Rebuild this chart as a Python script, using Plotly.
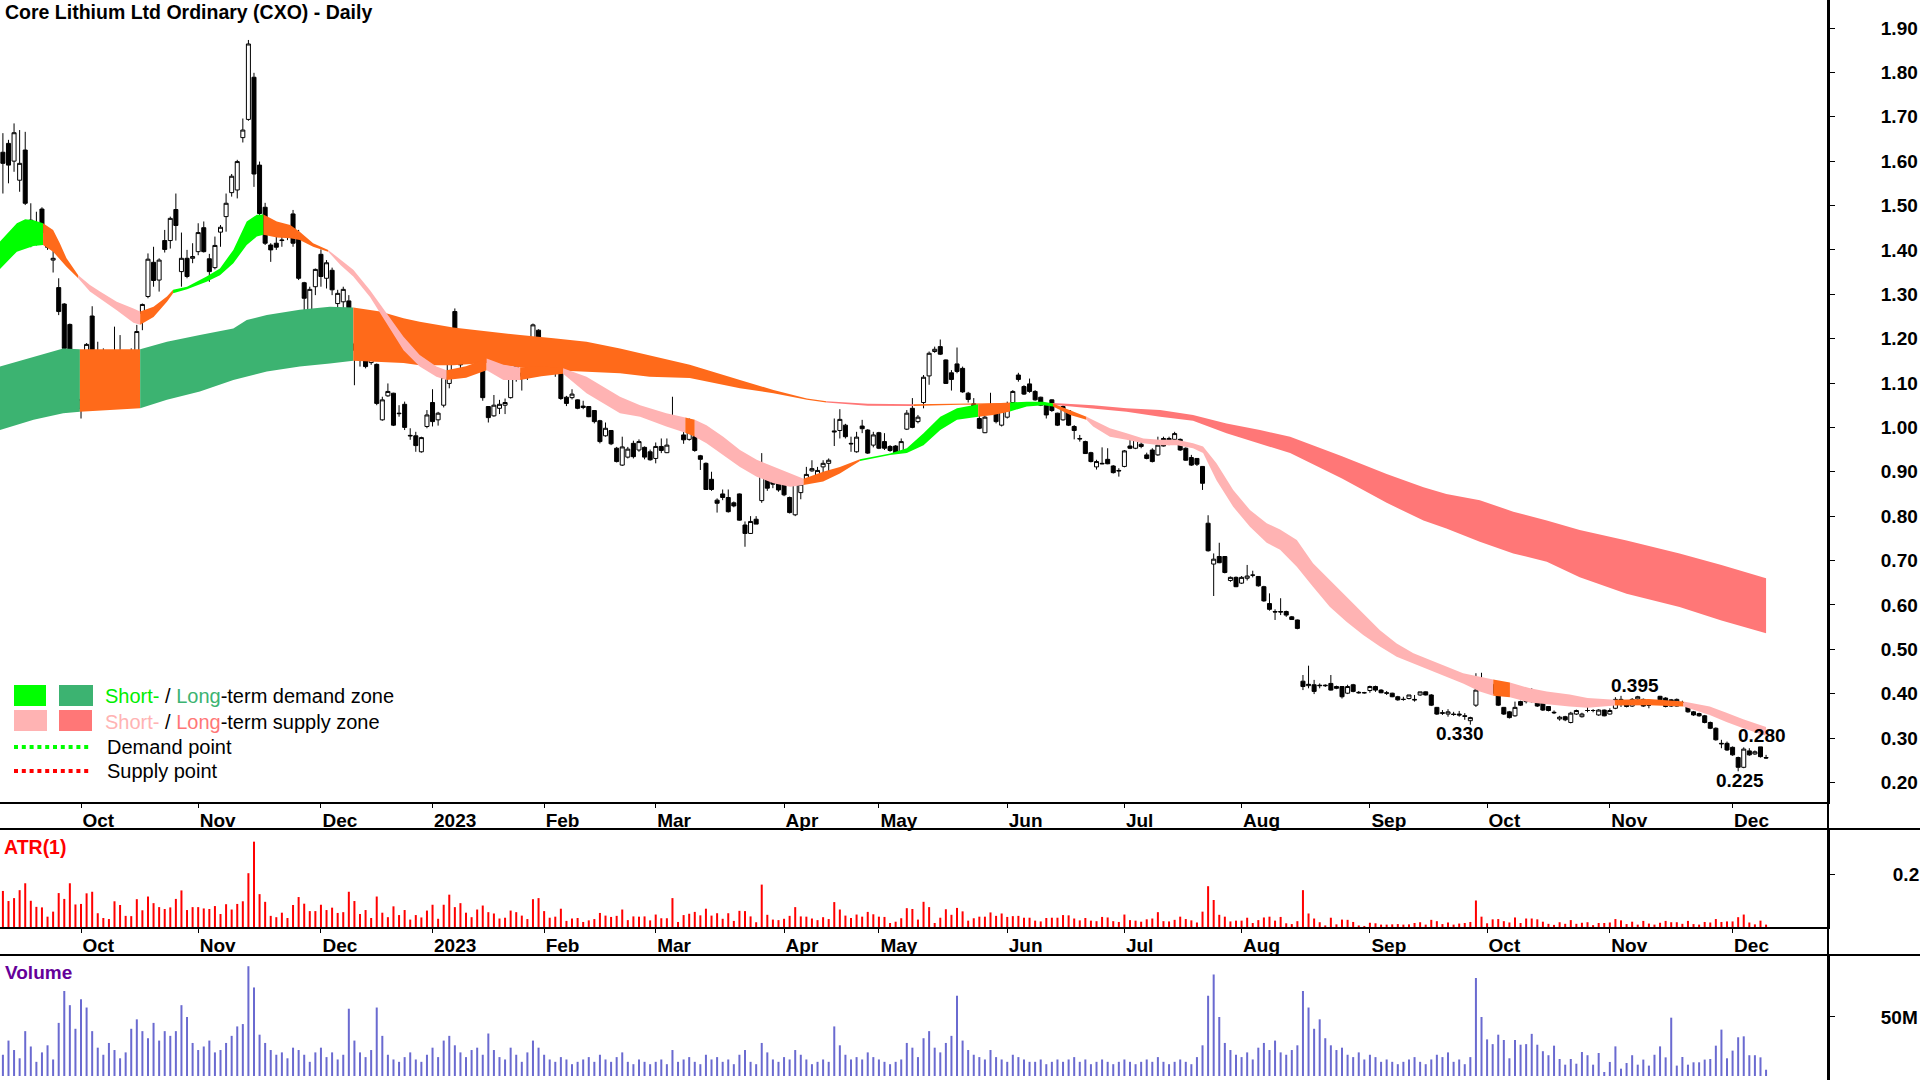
import pandas as pd
import plotly.graph_objects as go

# ---------------- data ----------------
holidays = ["2022-09-22", "2022-12-26", "2022-12-27", "2023-01-02", "2023-01-26",
            "2023-04-07", "2023-04-10", "2023-04-25", "2023-06-12"]
month_labels = ["Oct", "Nov", "Dec", "2023", "Feb", "Mar", "Apr", "May", "Jun",
                "Jul", "Aug", "Sep", "Oct", "Nov", "Dec"]

opens = [1.620,1.640,1.600,1.557,1.625,1.467,1.432,1.492,1.415,1.377,
1.315,1.278,1.232,1.137,1.043,1.108,1.251,1.150,1.162,1.133,
1.157,1.172,1.152,1.167,1.137,1.257,1.295,1.372,1.332,1.421,
1.421,1.491,1.351,1.381,1.381,1.396,1.450,1.380,1.360,1.440,
1.475,1.529,1.535,1.653,1.694,1.789,1.591,1.496,1.411,1.415,
1.421,1.445,1.481,1.426,1.326,1.261,1.317,1.390,1.336,1.354,
1.279,1.283,1.285,1.188,1.163,1.182,1.146,1.142,1.017,1.071,
1.077,1.032,1.052,0.982,0.981,0.945,1.002,1.056,1.017,1.050,
1.099,1.261,1.201,1.171,1.201,1.197,1.138,1.047,1.026,1.043,
1.050,1.067,1.140,1.116,1.135,1.140,1.219,1.182,1.158,1.150,
1.128,1.068,1.067,1.062,1.048,1.047,1.038,1.015,0.981,0.993,
0.953,0.915,0.933,0.964,0.949,0.955,0.945,0.930,0.957,0.943,
1.002,1.015,0.983,0.973,0.979,0.936,0.919,0.883,0.836,0.850,
0.842,0.830,0.850,0.780,0.761,0.793,0.835,0.893,0.887,0.878,
0.874,0.842,0.803,0.853,0.881,0.902,0.890,0.911,0.919,0.992,
0.993,1.005,0.964,0.945,1.003,0.994,0.960,0.988,0.968,0.957,
0.958,0.945,0.996,1.043,1.013,1.056,1.116,1.171,1.182,1.152,
1.123,1.143,1.133,1.077,1.053,1.020,0.988,1.041,1.047,1.005,
1.023,1.056,1.118,1.092,1.098,1.081,1.068,1.052,1.062,1.032,
1.017,1.038,1.002,0.975,0.968,0.943,0.911,0.919,0.928,0.913,
0.903,0.912,0.958,0.953,0.962,0.938,0.949,0.938,0.975,0.975,
0.973,0.973,0.953,0.932,0.930,0.912,0.784,0.692,0.709,0.709,
0.655,0.662,0.649,0.660,0.667,0.664,0.641,0.603,0.585,0.585,
0.585,0.573,0.566,0.428,0.418,0.420,0.419,0.419,0.423,0.416,
0.416,0.401,0.420,0.403,0.402,0.407,0.416,0.408,0.402,0.401,
0.393,0.387,0.389,0.387,0.397,0.404,0.397,0.369,0.357,0.354,
0.354,0.354,0.350,0.339,0.374,0.417,0.420,0.420,0.401,0.369,
0.359,0.350,0.382,0.382,0.389,0.397,0.380,0.371,0.358,0.343,
0.348,0.335,0.354,0.348,0.362,0.362,0.352,0.363,0.354,0.367,
0.387,0.378,0.372,0.388,0.387,0.374,0.379,0.394,0.390,0.386,
0.372,0.380,0.371,0.359,0.355,0.350,0.335,0.322,0.288,0.288,
0.279,0.256,0.234,0.271,0.264,0.280,0.256]

highs = [1.663,1.648,1.685,1.670,1.666,1.505,1.486,1.496,1.420,1.407,
1.336,1.280,1.234,1.170,1.077,1.190,1.273,1.193,1.178,1.160,
1.227,1.208,1.163,1.178,1.231,1.279,1.392,1.407,1.381,1.445,
1.475,1.527,1.439,1.400,1.415,1.460,1.464,1.391,1.430,1.456,
1.527,1.571,1.603,1.696,1.873,1.799,1.599,1.506,1.415,1.437,
1.460,1.456,1.490,1.445,1.328,1.317,1.358,1.401,1.377,1.360,
1.310,1.317,1.298,1.193,1.186,1.197,1.171,1.144,1.069,1.099,
1.078,1.050,1.058,0.998,0.990,0.979,1.039,1.086,1.035,1.116,
1.210,1.268,1.219,1.195,1.213,1.198,1.141,1.048,1.073,1.062,
1.065,1.118,1.159,1.126,1.137,1.234,1.221,1.189,1.161,1.153,
1.129,1.071,1.086,1.063,1.060,1.048,1.039,1.017,1.011,0.994,
0.956,0.979,0.956,0.970,0.973,0.957,0.950,0.966,0.975,0.975,
1.069,1.018,0.990,1.020,0.981,0.938,0.921,0.900,0.840,0.860,
0.860,0.833,0.851,0.788,0.800,0.800,0.942,0.903,0.891,0.881,
0.876,0.844,0.875,0.878,0.911,0.926,0.911,0.926,0.930,1.020,
1.041,1.008,0.979,0.990,1.017,0.996,0.990,0.990,0.987,0.960,
0.960,0.975,1.039,1.066,1.028,1.118,1.171,1.182,1.198,1.153,
1.129,1.180,1.137,1.080,1.066,1.028,1.026,1.078,1.050,1.053,
1.058,1.084,1.123,1.095,1.110,1.084,1.069,1.054,1.063,1.033,
1.050,1.039,1.005,0.983,0.970,0.945,0.927,0.955,0.953,0.915,
0.908,0.949,0.973,0.975,0.968,0.943,0.953,0.979,0.979,0.979,
0.990,0.975,0.955,0.938,0.930,0.913,0.802,0.716,0.740,0.710,
0.664,0.664,0.665,0.690,0.677,0.665,0.643,0.626,0.590,0.615,
0.587,0.575,0.567,0.442,0.463,0.431,0.423,0.421,0.442,0.418,
0.417,0.420,0.422,0.406,0.404,0.418,0.418,0.410,0.406,0.402,
0.395,0.393,0.397,0.397,0.404,0.405,0.399,0.370,0.363,0.365,
0.359,0.361,0.356,0.348,0.446,0.447,0.430,0.423,0.402,0.370,
0.361,0.382,0.384,0.406,0.412,0.399,0.381,0.372,0.362,0.350,
0.350,0.359,0.364,0.357,0.372,0.365,0.365,0.364,0.367,0.392,
0.395,0.380,0.390,0.395,0.389,0.380,0.383,0.395,0.392,0.388,
0.389,0.384,0.373,0.361,0.357,0.352,0.337,0.324,0.296,0.292,
0.281,0.258,0.279,0.277,0.272,0.280,0.262]

lows = [1.527,1.550,1.576,1.531,1.501,1.406,1.410,1.422,1.400,1.349,
1.253,1.174,1.069,1.085,1.020,1.093,1.140,1.141,1.144,1.130,
1.130,1.125,1.125,1.144,1.126,1.219,1.291,1.317,1.306,1.394,
1.403,1.421,1.317,1.336,1.370,1.388,1.394,1.328,1.356,1.407,
1.441,1.520,1.516,1.642,1.691,1.542,1.475,1.411,1.373,1.400,
1.407,1.422,1.407,1.332,1.248,1.257,1.298,1.317,1.313,1.298,
1.257,1.261,1.178,1.095,1.137,1.133,1.141,1.050,1.015,1.069,
1.003,1.024,0.994,0.972,0.945,0.943,0.998,1.002,1.004,1.045,
1.088,1.193,1.129,1.167,1.186,1.132,1.060,1.011,1.024,1.030,
1.030,1.065,1.103,1.083,1.107,1.135,1.122,1.129,1.126,1.114,
1.062,1.048,1.063,1.041,1.041,1.023,1.009,0.964,0.979,0.960,
0.921,0.913,0.930,0.930,0.945,0.928,0.925,0.919,0.942,0.942,
1.000,1.003,0.963,0.970,0.945,0.904,0.859,0.857,0.808,0.836,
0.808,0.820,0.790,0.731,0.760,0.782,0.830,0.857,0.863,0.855,
0.845,0.806,0.800,0.838,0.880,0.900,0.885,0.889,0.900,0.958,
0.975,0.975,0.945,0.943,0.987,0.940,0.955,0.951,0.949,0.945,
0.940,0.943,0.994,0.998,1.009,1.043,1.096,1.168,1.163,1.098,
1.083,1.122,1.078,1.056,1.033,0.996,0.987,1.039,1.009,1.002,
1.020,1.053,1.103,1.073,1.078,1.060,1.048,1.020,1.035,1.003,
1.015,1.003,0.973,0.968,0.940,0.921,0.905,0.917,0.917,0.896,
0.889,0.910,0.951,0.951,0.953,0.928,0.921,0.936,0.957,0.960,
0.970,0.947,0.925,0.913,0.913,0.859,0.720,0.620,0.694,0.671,
0.652,0.640,0.647,0.655,0.662,0.641,0.607,0.587,0.566,0.577,
0.573,0.566,0.545,0.408,0.412,0.399,0.412,0.415,0.407,0.410,
0.389,0.399,0.403,0.400,0.400,0.402,0.404,0.401,0.397,0.392,
0.384,0.384,0.387,0.382,0.395,0.396,0.372,0.352,0.352,0.348,
0.350,0.348,0.341,0.330,0.370,0.416,0.418,0.399,0.372,0.352,
0.344,0.348,0.372,0.378,0.380,0.370,0.361,0.360,0.354,0.339,
0.338,0.333,0.352,0.346,0.358,0.358,0.350,0.349,0.353,0.365,
0.370,0.369,0.370,0.386,0.370,0.367,0.376,0.384,0.369,0.370,
0.371,0.375,0.357,0.350,0.348,0.333,0.320,0.294,0.277,0.271,
0.260,0.225,0.232,0.260,0.262,0.256,0.253]

closes = [1.595,1.591,1.664,1.595,1.505,1.439,1.436,1.439,1.406,1.381,
1.261,1.178,1.101,1.107,1.063,1.187,1.146,1.161,1.149,1.142,
1.141,1.167,1.137,1.157,1.216,1.277,1.379,1.331,1.377,1.401,
1.471,1.455,1.381,1.340,1.385,1.439,1.396,1.351,1.410,1.451,
1.505,1.566,1.599,1.670,1.864,1.571,1.482,1.415,1.400,1.406,
1.422,1.450,1.415,1.336,1.291,1.311,1.356,1.340,1.371,1.310,
1.302,1.311,1.182,1.174,1.166,1.137,1.165,1.054,1.062,1.081,
1.005,1.031,1.000,0.981,0.959,0.977,1.028,1.013,1.032,1.113,
1.208,1.199,1.141,1.176,1.191,1.135,1.067,1.022,1.050,1.052,
1.056,1.116,1.110,1.122,1.129,1.231,1.163,1.140,1.129,1.131,
1.065,1.054,1.075,1.043,1.045,1.024,1.013,0.968,0.998,0.963,
0.923,0.956,0.951,0.934,0.968,0.933,0.927,0.957,0.948,0.960,
1.022,1.008,0.972,1.002,0.948,0.928,0.860,0.860,0.829,0.842,
0.810,0.823,0.791,0.761,0.788,0.782,0.903,0.863,0.872,0.859,
0.848,0.808,0.874,0.872,0.894,0.907,0.903,0.919,0.926,0.990,
1.018,0.979,0.963,0.978,0.997,0.942,0.983,0.953,0.953,0.948,
0.942,0.968,1.032,1.000,1.023,1.113,1.167,1.176,1.165,1.099,
1.108,1.126,1.080,1.063,1.035,0.998,1.023,1.051,1.013,1.050,
1.043,1.081,1.108,1.075,1.081,1.062,1.050,1.028,1.038,1.005,
1.047,1.005,0.993,0.974,0.941,0.923,0.923,0.918,0.918,0.898,
0.902,0.947,0.953,0.973,0.957,0.930,0.923,0.960,0.958,0.963,
0.986,0.949,0.926,0.915,0.917,0.874,0.722,0.703,0.695,0.673,
0.662,0.641,0.662,0.665,0.667,0.643,0.609,0.590,0.584,0.584,
0.577,0.567,0.547,0.416,0.421,0.405,0.418,0.418,0.408,0.412,
0.393,0.416,0.405,0.402,0.402,0.416,0.408,0.402,0.401,0.393,
0.386,0.387,0.397,0.386,0.404,0.397,0.374,0.354,0.356,0.359,
0.353,0.352,0.349,0.346,0.408,0.432,0.428,0.401,0.374,0.354,
0.346,0.369,0.374,0.404,0.382,0.372,0.363,0.362,0.357,0.347,
0.341,0.356,0.362,0.354,0.362,0.362,0.363,0.350,0.362,0.387,
0.378,0.371,0.387,0.393,0.372,0.374,0.379,0.386,0.371,0.372,
0.387,0.380,0.359,0.352,0.350,0.335,0.322,0.296,0.287,0.273,
0.262,0.234,0.275,0.262,0.269,0.258,0.255]

volume_m = [18,30,22,15,38,25,12,20,26,14,
45,72,60,40,65,58,38,24,18,28,
22,15,20,40,48,38,32,45,30,38,
34,38,60,50,28,22,25,30,20,22,
28,34,42,44,93,75,35,28,22,18,
20,15,24,22,18,12,20,24,16,20,
14,18,57,30,20,16,22,58,34,18,
14,12,16,20,14,12,18,24,16,30,
34,26,20,16,22,24,18,36,22,16,
14,24,18,12,20,30,24,18,14,12,
16,14,10,12,14,16,12,18,14,12,
16,20,12,10,14,12,10,12,14,10,
22,12,14,16,12,10,18,14,16,12,
14,10,18,22,12,10,28,20,14,12,
16,14,22,18,14,10,12,14,12,42,
26,18,14,16,14,20,16,14,12,10,
12,14,28,24,16,32,38,24,20,28,
34,68,30,22,18,16,14,22,16,14,
12,18,16,14,12,12,14,10,12,14,
12,14,16,12,14,10,12,14,12,10,
12,14,12,10,12,14,12,16,12,10,
12,14,12,10,16,26,68,86,50,28,
22,18,16,20,14,24,28,22,30,20,
18,22,26,72,58,40,48,32,26,22,
24,18,16,20,14,18,16,12,14,12,
10,12,14,16,12,10,14,18,16,20,
12,14,10,16,83,50,31,27,35,30.5,
15,30.5,26.5,27,35.7,26.5,21,17.6,25.7,14.4,
9.6,14.4,10.4,20.3,17.6,9.6,19.5,3.4,11.9,25.1,
6.2,11,17.6,9.6,13.9,8.8,18,25.1,15.8,49.4,
8.8,16.1,9.6,11.6,11.6,13.9,14.4,25.7,39.3,15,
21.5,32.8,33.6,17.6,17.6,15.8,5.3]

# zone edges (trading-day position, upper, lower); state letter = colour of the following stretch
short_pos = [-0.6,2.5,4.0,5.5,7.2,9.0,10.2,11.4,13.5,15.6,17.4,20.4,23.4,24.6,27.0,29.4,30.5,33.0,36.5,38.9,
 41.3,43.7,45.5,46.7,49.1,51.5,53.2,55.6,58.3,60.5,62.8,65.8,68.8,71.8,74.7,77.7,79.5,83.0,86.7,89.7,
 92.7,96.5,100.4,104.6,110.6,114.2,118.9,122.3,124.0,126.1,129.1,132.1,135.1,138.1,141.1,143.5,147.0,150.0,153.6,159.0,
 162.0,165.0,168.0,171.0,174.8,177.5,180.5,183.5,186.5,188.2,191.3,194.2,195.4,198.4,201.4,204.4,207.4,210.4,213.3,215.1,
 217.5,220.5,223.5,226.5,228.9,231.9,234.8,237.8,240.8,243.8,246.8,249.8,252.8,255.8,258.7,261.7,264.7,267.1,270.1,273.7,
 276.7,280.8,284.0,288.9,295.0,301.2,305.9,308.9,311.9,316.0]
short_hi = [1.418,1.460,1.469,1.467,1.460,1.445,1.415,1.381,1.343,1.321,1.306,1.283,1.268,1.261,1.272,1.295,1.310,1.317,1.340,1.358,
 1.400,1.464,1.479,1.480,1.464,1.456,1.441,1.415,1.400,1.378,1.355,1.309,1.257,1.204,1.163,1.137,1.129,1.138,1.155,1.141,
 1.135,1.138,1.133,1.114,1.069,1.050,1.032,1.022,1.017,1.005,0.979,0.949,0.927,0.911,0.896,0.884,0.900,0.911,0.928,0.941,
 0.953,0.987,1.024,1.043,1.052,1.054,1.056,1.058,1.058,1.054,1.039,1.024,1.017,0.998,0.987,0.975,0.972,0.972,0.964,0.957,
 0.919,0.859,0.814,0.784,0.770,0.746,0.694,0.656,0.619,0.581,0.543,0.513,0.491,0.476,0.461,0.446,0.438,0.432,0.425,0.412,
 0.405,0.398,0.390,0.386,0.388,0.382,0.371,0.357,0.342,0.325]
short_lo = [1.356,1.396,1.403,1.409,1.411,1.396,1.378,1.362,1.336,1.306,1.291,1.264,1.236,1.231,1.249,1.283,1.302,1.311,1.328,1.343,
 1.370,1.411,1.430,1.434,1.428,1.426,1.422,1.407,1.396,1.366,1.340,1.294,1.234,1.174,1.137,1.114,1.107,1.112,1.129,1.107,
 1.107,1.115,1.121,1.077,1.032,1.024,1.002,0.988,0.979,0.964,0.938,0.911,0.889,0.874,0.866,0.870,0.878,0.896,0.924,0.938,
 0.942,0.960,0.994,1.017,1.024,1.028,1.036,1.047,1.050,1.047,1.028,1.017,1.002,0.979,0.972,0.964,0.960,0.960,0.953,0.942,
 0.881,0.821,0.776,0.740,0.724,0.686,0.641,0.596,0.562,0.532,0.506,0.483,0.468,0.453,0.438,0.423,0.405,0.395,0.392,0.380,
 0.376,0.371,0.368,0.373,0.374,0.371,0.352,0.336,0.322,0.305]
short_state = ("g" * 4 + "o" * 4 + "p" * 5 + "o" * 3 + "g" * 7 + "o" * 5 + "p" * 8 + "o" * 2 + "p" * 2
               + "o" * 2 + "p" * 5 + "o" + "p" * 7 + "o" * 3 + "g" * 6 + "o" * 2 + "g" * 3 + "o" * 2
               + "p" * 26 + "o" + "p" * 5 + "o" * 2 + "p" * 5)

long_pos = [-0.6,5.5,10.8,13.8,24.6,29.4,35.3,41.3,43.7,47.3,53.2,58.6,62.8,67.6,71.8,74.7,80.7,86.7,92.7,98.7,
 104.6,110.6,115.9,123.1,132.1,138.1,144.1,147.6,155.0,163.2,171.5,180.5,188.2,195.4,201.4,207.4,213.3,219.3,225.3,230.7,
 240.0,248.0,254.6,258.7,264.7,270.7,276.7,282.6,291.0,300.5,308.0,316.0]
long_hi = [1.137,1.159,1.178,1.176,1.176,1.193,1.208,1.223,1.242,1.253,1.265,1.272,1.270,1.261,1.246,1.238,1.225,1.216,1.208,1.201,
 1.193,1.178,1.163,1.141,1.107,1.084,1.065,1.059,1.053,1.052,1.054,1.055,1.055,1.050,1.043,1.039,1.028,1.009,0.994,0.979,
 0.935,0.895,0.865,0.850,0.836,0.810,0.790,0.769,0.745,0.716,0.690,0.660]
long_lo = [0.994,1.017,1.032,1.035,1.043,1.062,1.081,1.107,1.115,1.126,1.137,1.144,1.150,1.147,1.145,1.140,1.140,1.145,1.135,1.129,
 1.125,1.122,1.114,1.111,1.088,1.077,1.062,1.056,1.049,1.048,1.051,1.052,1.051,1.043,1.035,1.024,1.015,0.987,0.964,0.942,
 0.885,0.830,0.790,0.772,0.742,0.716,0.697,0.662,0.625,0.595,0.565,0.536]
long_state = "G" * 3 + "o" + "G" * 8 + "o" * 15 + "R" * 2 + "o" * 3 + "R" * 20

zone_colors = {"g": "#00FF00", "G": "#3CB371", "p": "#FFB3B3", "R": "#FF7777", "o": "#FF6A1A"}

# ---------------- derived ----------------
N = len(opens)
idx = list(range(N))
dates = pd.bdate_range("2022-09-12", "2023-12-11")
dates = dates[~dates.isin(pd.to_datetime(holidays))][:N]
tick_pos = [k for k in range(1, len(dates)) if dates[k].month != dates[k - 1].month]
tick_txt = month_labels[:len(tick_pos)]

atr = [highs[0] - lows[0]] + [max(highs[k], closes[k - 1]) - min(lows[k], closes[k - 1]) for k in range(1, N)]
volume = [v * 1e6 for v in volume_m]

W, H = 1920, 1080
PR = 1828  # right edge of plot area in px


def px(x):
    return x / PR


def py(y):
    return 1 - y / H


fig = go.Figure()


def add_band(pos, hi, lo, state, xa="x", ya="y"):
    n = len(pos)
    k = 0
    while k < n - 1:
        s = state[k]
        j = k
        while j < n - 1 and state[j] == s:
            j += 1
        xs = pos[k:j + 1] + pos[k:j + 1][::-1]
        ys = hi[k:j + 1] + lo[k:j + 1][::-1]
        fig.add_trace(go.Scatter(x=xs, y=ys, fill="toself", fillcolor=zone_colors[s],
                                 mode="lines", line=dict(width=0, color=zone_colors[s]),
                                 hoverinfo="skip", xaxis=xa, yaxis=ya))
        k = j


add_band(long_pos, long_hi, long_lo, long_state)
add_band(short_pos, short_hi, short_lo, short_state)

fig.add_trace(go.Candlestick(x=idx, open=opens, high=highs, low=lows, close=closes,
                             increasing=dict(line=dict(color="black", width=1), fillcolor="white"),
                             decreasing=dict(line=dict(color="black", width=1), fillcolor="black"),
                             whiskerwidth=0, xaxis="x", yaxis="y", hoverinfo="skip"))

fig.add_trace(go.Bar(x=idx, y=atr, width=0.36, marker=dict(color="#FF0000", line=dict(width=0)),
                     xaxis="x2", yaxis="y2", hoverinfo="skip"))
fig.add_trace(go.Bar(x=idx, y=volume, width=0.36, marker=dict(color="#6A6AD0", line=dict(width=0)),
                     xaxis="x3", yaxis="y3", hoverinfo="skip"))

FONT = "Liberation Sans, Arial, sans-serif"
xr = [-0.52, 327.1]
common_x = dict(range=xr, showgrid=False, zeroline=False, fixedrange=True)
xticks = dict(showline=True, linecolor="black", linewidth=2, ticks="outside", ticklen=4,
              tickwidth=1, tickcolor="black", tickvals=tick_pos, ticktext=tick_txt,
              ticklabelposition="outside right",
              tickfont=dict(family=FONT, size=19, color="black", weight="bold"))
yax = dict(side="right", showgrid=False, zeroline=False, showline=True, linecolor="black",
           linewidth=2, ticks="outside", ticklen=5, tickwidth=1, tickcolor="black",
           tickfont=dict(family=FONT, size=19, color="black", weight="bold"), automargin=False,
           fixedrange=True)

fig.update_layout(
    width=W, height=H, margin=dict(l=0, r=W - PR, t=0, b=0, autoexpand=False),
    paper_bgcolor="white", plot_bgcolor="white", showlegend=False,
    boxgap=0.1, boxgroupgap=0.2,
    font=dict(family=FONT, color="black"),
    xaxis=dict(domain=[0, 1], anchor="y", rangeslider=dict(visible=False), **common_x, **xticks),
    yaxis=dict(domain=[py(802), 1], anchor="x", range=[0.1558, 1.9631],
               tickvals=[round(0.2 + 0.1 * k, 2) for k in range(18)], tickformat=".2f",
               ticklabelstandoff=42, **yax),
    xaxis2=dict(domain=[0, 1], anchor="y2", **common_x, **xticks),
    yaxis2=dict(domain=[py(927), py(829)], anchor="x2", range=[0, 0.3698],
                tickvals=[0.2], ticktext=["0.2"], ticklabelstandoff=54, **yax),
    xaxis3=dict(domain=[0, 1], anchor="y3", showticklabels=False, showline=False, ticks="", **common_x),
    yaxis3=dict(domain=[0, py(955)], anchor="x3", range=[-3.39e6, 102.5e6],
                tickvals=[50e6], ticktext=["50M"], ticklabelstandoff=42, **yax),
)

shapes = [
    dict(type="line", xref="paper", yref="paper", x0=1, x1=1, y0=0, y1=1, line=dict(color="black", width=2)),
    dict(type="line", xref="paper", yref="paper", x0=0, x1=W / PR, y0=py(829), y1=py(829), line=dict(color="black", width=2)),
    dict(type="line", xref="paper", yref="paper", x0=0, x1=W / PR, y0=py(955), y1=py(955), line=dict(color="black", width=2)),
    # legend swatches
    dict(type="rect", xref="paper", yref="paper", x0=px(14), x1=px(46), y0=py(706), y1=py(685), fillcolor="#00FF00", line=dict(width=0)),
    dict(type="rect", xref="paper", yref="paper", x0=px(59), x1=px(93), y0=py(706), y1=py(685), fillcolor="#3CB371", line=dict(width=0)),
    dict(type="rect", xref="paper", yref="paper", x0=px(14), x1=px(47), y0=py(731), y1=py(710), fillcolor="#FFB3B3", line=dict(width=0)),
    dict(type="rect", xref="paper", yref="paper", x0=px(59), x1=px(92), y0=py(731), y1=py(710), fillcolor="#FF7777", line=dict(width=0)),
    dict(type="line", xref="paper", yref="paper", x0=px(14), x1=px(92), y0=py(747), y1=py(747), line=dict(color="#00FF00", width=4, dash="4px,3.8px")),
    dict(type="line", xref="paper", yref="paper", x0=px(14), x1=px(92), y0=py(771), y1=py(771), line=dict(color="#FF0000", width=4, dash="4px,3.8px")),
]
fig.update_layout(shapes=shapes)

ann = []


def text(x, y, s, size=20, color="black", bold=False, xanchor="left"):
    ann.append(dict(xref="paper", yref="paper", x=px(x), y=py(y), text=s, showarrow=False,
                    xanchor=xanchor, yanchor="middle",
                    font=dict(family=FONT, size=size, color=color, weight="bold" if bold else "normal")))


text(3, 12, "Core Lithium Ltd Ordinary (CXO) - Daily", size=19.5, bold=True)
text(103, 696, "<span style='color:#00EE00'>Short-</span> / <span style='color:#3CB371'>Long</span>-term demand zone")
text(103, 722, "<span style='color:#FFB3B3'>Short-</span> / <span style='color:#FF7777'>Long</span>-term supply zone")
text(105, 747, "Demand point")
text(105, 771, "Supply point")
text(2, 847, "ATR(1)", size=19.5, color="#FF0000", bold=True)
text(3, 972, "Volume", size=19, color="#660099", bold=True)
# high / low labels
text(1460, 733, "0.330", size=19, bold=True, xanchor="center")
text(1635, 685, "0.395", size=19, bold=True, xanchor="center")
text(1762, 735, "0.280", size=19, bold=True, xanchor="center")
text(1740, 780, "0.225", size=19, bold=True, xanchor="center")
fig.update_layout(annotations=ann)

fig.write_html("out.html", config={"displayModeBar": False, "staticPlot": True},
               post_script="document.body.style.margin='0px';document.body.style.overflow='hidden';")
